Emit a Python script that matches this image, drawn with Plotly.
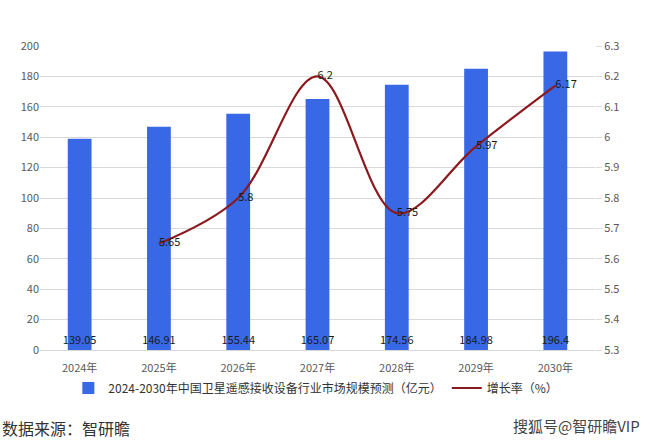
import plotly.graph_objects as go

years = ["2024年", "2025年", "2026年", "2027年", "2028年", "2029年", "2030年"]
market_size = [139.05, 146.91, 155.44, 165.07, 174.56, 184.98, 196.4]
growth_years = ["2025年", "2026年", "2027年", "2028年", "2029年", "2030年"]
growth_rate = [5.65, 5.8, 6.2, 5.75, 5.97, 6.17]

bar_name = "2024-2030年中国卫星遥感接收设备行业市场规模预测（亿元）"
line_name = "增长率（%）"

FONT = "Noto Sans CJK SC, Microsoft YaHei, sans-serif"

fig = go.Figure()
fig.add_trace(go.Bar(
    x=years, y=market_size, name=bar_name,
    marker=dict(color="#3868E6", line=dict(width=0)),
    width=0.3,
    text=[str(v) for v in market_size],
    textposition="inside", insidetextanchor="start", textangle=0,
    constraintext="none", cliponaxis=False,
    textfont=dict(size=11, color="#1a1a1a", family=FONT),
))
fig.add_trace(go.Scatter(
    x=growth_years, y=growth_rate, name=line_name, yaxis="y2",
    mode="lines+text", line=dict(color="#8B1A1F", width=2.2, shape="spline", smoothing=1.0),
    text=[str(v) for v in growth_rate], textposition="middle right",
    textfont=dict(size=11, color="#1a1a1a", family=FONT),
    cliponaxis=False,
))

fig.update_layout(
    width=648, height=440,
    margin=dict(l=40, r=53, t=46, b=90),
    paper_bgcolor="white", plot_bgcolor="white",
    font=dict(family=FONT, size=11, color="#595959"),
    xaxis=dict(showgrid=False, showline=True, linecolor="#d9d9d9", linewidth=1,
               ticks="", ticklabelstandoff=8, tickfont=dict(size=11, color="#595959")),
    yaxis=dict(range=[0, 200], dtick=20, showgrid=True, gridcolor="#d9d9d9", gridwidth=1,
               zeroline=False, ticks="", tickfont=dict(size=11, color="#595959")),
    yaxis2=dict(range=[5.3, 6.3], dtick=0.1, overlaying="y", side="right",
                showgrid=False, zeroline=False, ticks="outside", ticklen=6, tickcolor="#d9d9d9",
                tickformat="~g", tickfont=dict(size=11, color="#595959")),
    legend=dict(orientation="h", x=0.497, xanchor="center", y=-0.125, yanchor="middle",
                font=dict(size=12, color="#333333", family=FONT), traceorder="normal",
                itemwidth=30, tracegroupgap=0),
    showlegend=True,
)

fig.add_annotation(text="数据来源：智研瞻", xref="paper", yref="paper",
                   x=-40/555, y=-(428-350)/304, xanchor="left", yanchor="middle",
                   showarrow=False, font=dict(size=16, color="#333333", family=FONT))
fig.add_annotation(text="搜狐号@智研瞻VIP", xref="paper", yref="paper",
                   x=(642-40)/555, y=-(425-350)/304, xanchor="right", yanchor="middle",
                   showarrow=False, font=dict(size=15, color="#444444", family=FONT))

fig.write_html("out.html")
